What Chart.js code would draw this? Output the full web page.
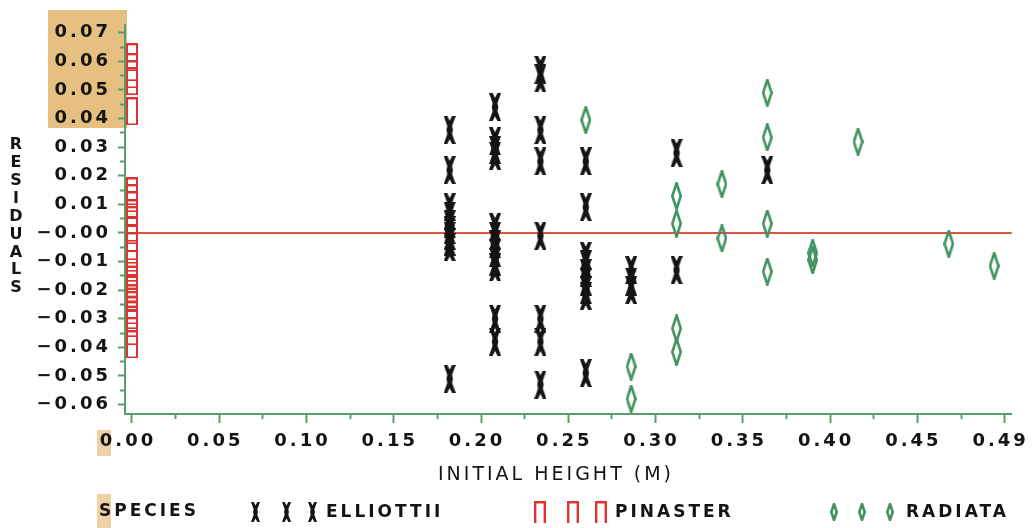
<!DOCTYPE html>
<html lang="en">
<head>
<meta charset="UTF-8">
<title>Residuals by initial height</title>
<script src="https://cdn.jsdelivr.net/npm/chart.js@4.4.0/dist/chart.umd.min.js"></script>
<style>
  html, body { margin: 0; padding: 0; background: #fff; }
  #wrap { width: 1035px; height: 528px; }
</style>
</head>
<body>
<div id="wrap"><canvas id="chart" width="1035" height="528"></canvas></div>
<script>
// --- data ---
const speciesNames = ['ELLIOTTII', 'PINASTER', 'RADIATA'];

const elliottiiHeight = [
  0.182, 0.182, 0.182, 0.182, 0.182, 0.182, 0.182, 0.182, 0.182, 0.182,
  0.208, 0.208, 0.208, 0.208, 0.208, 0.208, 0.208, 0.208, 0.208, 0.208, 0.208, 0.208,
  0.234, 0.234, 0.234, 0.234, 0.234, 0.234, 0.234, 0.234,
  0.260, 0.260, 0.260, 0.260, 0.260, 0.260, 0.260, 0.260, 0.260,
  0.286, 0.286, 0.286,
  0.312, 0.312,
  0.364
];
const elliottiiResidual = [
  0.036, 0.022, 0.009, 0.006, 0.003, 0.001, -0.001, -0.003, -0.005, -0.051,
  0.044, 0.032, 0.029, 0.027, 0.002, -0.001, -0.004, -0.007, -0.010, -0.012, -0.030, -0.038,
  0.057, 0.054, 0.036, 0.025, -0.001, -0.030, -0.038, -0.053,
  0.025, 0.009, -0.008, -0.011, -0.014, -0.017, -0.020, -0.022, -0.049,
  -0.013, -0.017, -0.020,
  0.028, -0.013,
  0.022
];

const pinasterHeight = [
  0, 0, 0, 0, 0, 0, 0, 0, 0, 0, 0, 0, 0,
  0, 0, 0, 0, 0, 0, 0, 0, 0, 0, 0, 0, 0
];
const pinasterResidual = [
  0.0614, 0.0579, 0.0554, 0.0530, 0.0425, 0.0145, 0.0121, 0.0096, 0.0068, 0.0044, 0.0009, -0.0019, -0.0047,
  -0.0072, -0.0107, -0.0149, -0.0177, -0.0194, -0.0212, -0.0229, -0.0253, -0.0271, -0.0288, -0.0316, -0.0344, -0.0390
];

const radiataHeight = [
  0.260, 0.286, 0.286, 0.312, 0.312, 0.312, 0.312, 0.338, 0.338,
  0.364, 0.364, 0.364, 0.364, 0.390, 0.390, 0.416, 0.468, 0.494
];
const radiataResidual = [
  0.0395, -0.0467, -0.058, 0.0129, 0.0033, -0.0334, -0.0416, 0.0171, -0.0019,
  0.049, 0.0334, 0.0033, -0.0135, -0.007, -0.0095, 0.0319, -0.0038, -0.0115
];

const zeroResidual = 0;

const xMajorTicks = [0, 0.05, 0.10, 0.15, 0.20, 0.25, 0.30, 0.35, 0.40, 0.45, 0.50];
const xTickLabels = ['0.00', '0.05', '0.10', '0.15', '0.20', '0.25', '0.30', '0.35', '0.40', '0.45', '0.49'];
const yMajorTicks = [0.07, 0.06, 0.05, 0.04, 0.03, 0.02, 0.01, 0, -0.01, -0.02, -0.03, -0.04, -0.05, -0.06];
const yTickLabels = ['0.07', '0.06', '0.05', '0.04', '0.03', '0.02', '0.01', '\u22120.00',
                     '\u22120.01', '\u22120.02', '\u22120.03', '\u22120.04', '\u22120.05', '\u22120.06'];

const xTitle = 'INITIAL HEIGHT (M)';
const yTitle = 'RESIDUALS';
const legendTitle = 'SPECIES';

// --- styling ---
const axisGreen = 'rgb(88,158,108)';
const black = '#141414';
const red = 'rgb(222,52,48)';
const green = 'rgb(66,146,96)';
const lineRed = 'rgb(226,80,62)';
const xMin = -0.004, xMax = 0.504;
const yMin = -0.0633, yMax = 0.0727;
const tickFont = { family: 'DejaVu Sans', weight: 'bold', size: 18 };

function makeCanvas(w, h, draw) {
  const c = document.createElement('canvas');
  c.width = w; c.height = h;
  draw(c.getContext('2d'), w, h);
  return c;
}

// hourglass "X" glyph used for ELLIOTTII
function drawElliottii(c, w, h) {
  const m = w / 2, s = w * 0.2;
  c.fillStyle = black;
  c.beginPath();
  c.moveTo(0, 0); c.lineTo(w * 0.3, 0); c.lineTo(m, h * 0.17);
  c.lineTo(w * 0.7, 0); c.lineTo(w, 0);
  c.lineTo(m + s, h * 0.36); c.lineTo(m + s * 1.35, h * 0.5); c.lineTo(m + s, h * 0.64);
  c.lineTo(w, h); c.lineTo(w * 0.7, h); c.lineTo(m, h * 0.83);
  c.lineTo(w * 0.3, h); c.lineTo(0, h);
  c.lineTo(m - s, h * 0.64); c.lineTo(m - s * 1.35, h * 0.5); c.lineTo(m - s, h * 0.36);
  c.closePath();
  c.fill();
}
function drawPinaster(c, w, h) {
  c.strokeStyle = red; c.lineWidth = 2;
  c.strokeRect(1, 1, w - 2, h - 2);
}
function drawPinasterLegend(c, w, h) {
  c.strokeStyle = red; c.lineWidth = 2.4;
  c.beginPath();
  c.moveTo(1.2, h); c.lineTo(1.2, 1.2); c.lineTo(w - 1.2, 1.2); c.lineTo(w - 1.2, h);
  c.stroke();
}
function drawRadiata(c, w, h) {
  c.strokeStyle = green; c.lineWidth = 2.6;
  c.beginPath();
  c.moveTo(w / 2, 1); c.lineTo(w - 1.3, h / 2); c.lineTo(w / 2, h - 1); c.lineTo(1.3, h / 2);
  c.closePath();
  c.stroke();
}

const elliottiiMark = makeCanvas(12, 28, drawElliottii);
const pinasterMark = makeCanvas(12, 28, drawPinaster);
const radiataMark = makeCanvas(11, 28, drawRadiata);
const elliottiiKey = makeCanvas(9, 20, drawElliottii);
const pinasterKey = makeCanvas(12, 22, drawPinasterLegend);
const radiataKey = makeCanvas(8, 18, drawRadiata);

function pairs(xs, ys) {
  return xs.map((x, i) => ({ x: x, y: ys[i] }));
}

// paper stains, stacked y title, x title and the species key
const pagePlugin = {
  id: 'page',
  beforeDraw(chart) {
    const c = chart.ctx;
    c.save();
    c.fillStyle = '#fff';
    c.fillRect(0, 0, chart.width, chart.height);
    c.fillStyle = 'rgb(230,192,128)';
    c.fillRect(48, 10, 79, 118);
    c.fillStyle = 'rgb(238,210,165)';
    c.fillRect(97, 430, 14, 26);
    c.fillRect(97, 494, 14, 34);
    c.restore();
    c.letterSpacing = '3px';
  },
  afterDraw(chart) {
    const c = chart.ctx;
    c.save();
    c.fillStyle = black;
    c.textBaseline = 'middle';

    // RESIDUALS, one letter per line
    c.letterSpacing = '0px';
    c.textAlign = 'center';
    c.font = 'bold 16px "DejaVu Sans"';
    yTitle.split('').forEach((ch, i) => c.fillText(ch, 16, 145 + i * 17.9));

    // x title
    c.letterSpacing = '3px';
    c.font = '19px "DejaVu Sans"';
    c.fillText(xTitle, 556, 475);

    // key
    c.textAlign = 'left';
    c.letterSpacing = '3px';
    c.font = 'bold 17px "DejaVu Sans"';
    c.fillText(legendTitle, 99, 512);
    const keys = [
      { mark: elliottiiKey, xs: [255, 286, 312], tx: 326 },
      { mark: pinasterKey, xs: [540, 573, 601], tx: 615 },
      { mark: radiataKey, xs: [834, 862, 890], tx: 906 }
    ];
    keys.forEach((k, i) => {
      k.xs.forEach(x => c.drawImage(k.mark, Math.round(x - k.mark.width / 2), Math.round(512 - k.mark.height / 2)));
      c.fillText(speciesNames[i], k.tx, 513);
    });
    c.restore();
  }
};

const ctx = document.getElementById('chart').getContext('2d');
const chart = new Chart(ctx, {
  type: 'scatter',
  data: {
    datasets: [
      {
        label: speciesNames[0],
        data: pairs(elliottiiHeight, elliottiiResidual),
        pointStyle: elliottiiMark,
        order: 1
      },
      {
        label: speciesNames[1],
        data: pairs(pinasterHeight, pinasterResidual),
        pointStyle: pinasterMark,
        order: 3
      },
      {
        label: speciesNames[2],
        data: pairs(radiataHeight, radiataResidual),
        pointStyle: radiataMark,
        order: 2
      },
      {
        type: 'line',
        label: 'zero',
        data: [{ x: xMin, y: zeroResidual }, { x: xMax, y: zeroResidual }],
        borderColor: lineRed,
        borderWidth: 2,
        pointRadius: 0,
        order: 5
      }
    ]
  },
  options: {
    responsive: false,
    animation: false,
    devicePixelRatio: 1,
    clip: false,
    layout: { padding: { top: 25, right: 20, left: 0, bottom: 0 } },
    plugins: {
      legend: { display: false },
      tooltip: { enabled: false }
    },
    scales: {
      x: {
        type: 'linear',
        min: xMin,
        max: xMax,
        afterBuildTicks(scale) {
          const t = [];
          xMajorTicks.forEach((v, i) => {
            t.push({ value: v });
            if (i < xMajorTicks.length - 1) t.push({ value: (v + xMajorTicks[i + 1]) / 2 });
          });
          scale.ticks = t;
        },
        afterFit(scale) { scale.height = 114; },
        border: { display: true, color: axisGreen, width: 2 },
        grid: {
          display: true,
          drawOnChartArea: false,
          drawTicks: true,
          tickLength: 9,
          tickWidth: 2,
          tickColor: axisGreen,
          tickBorderDash: c => (c.index % 2 === 0 ? [] : [4, 100])
        },
        ticks: {
          autoSkip: false,
          maxRotation: 0,
          minRotation: 0,
          padding: 8,
          labelOffset: -4,
          color: black,
          font: tickFont,
          callback(value) {
            const k = xMajorTicks.findIndex(v => Math.abs(v - value) < 1e-9);
            return k >= 0 ? xTickLabels[k] : '';
          }
        }
      },
      y: {
        type: 'linear',
        min: yMin,
        max: yMax,
        afterBuildTicks(scale) {
          const t = [];
          const asc = yMajorTicks.slice().reverse();
          asc.forEach((v, i) => {
            t.push({ value: v });
            if (i < asc.length - 1) t.push({ value: (v + asc[i + 1]) / 2 });
          });
          scale.ticks = t;
        },
        afterFit(scale) { scale.width = 125; },
        border: { display: true, color: axisGreen, width: 2 },
        grid: {
          display: true,
          drawOnChartArea: false,
          drawTicks: true,
          tickLength: 7,
          tickWidth: 2,
          tickColor: axisGreen,
          tickBorderDash: c => (c.index % 2 === 0 ? [] : [0, 2, 5, 100])
        },
        ticks: {
          autoSkip: false,
          padding: 7,
          color: black,
          font: tickFont,
          callback(value) {
            const k = yMajorTicks.findIndex(v => Math.abs(v - value) < 1e-9);
            return k >= 0 ? yTickLabels[k] : '';
          }
        }
      }
    }
  },
  plugins: [pagePlugin]
});
</script>
</body>
</html>
